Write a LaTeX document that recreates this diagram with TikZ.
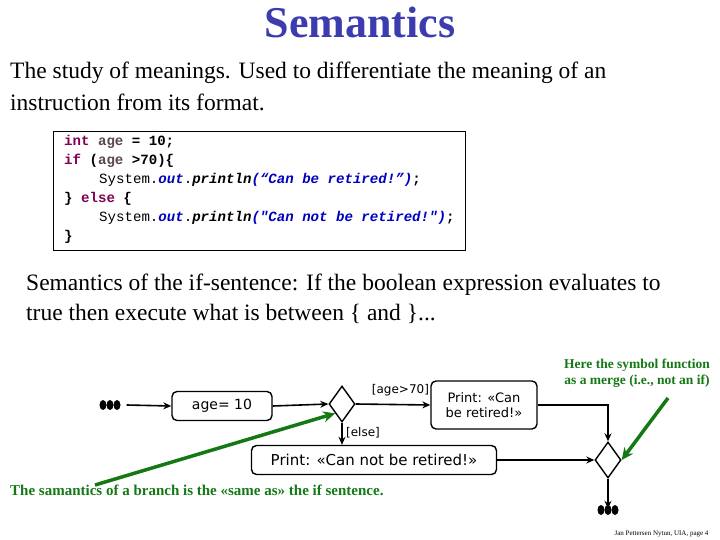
\documentclass[tikz,border=0pt]{standalone}
\usepackage{fontspec}
\setmainfont{Liberation Serif}
\newfontfamily\codefont{Liberation Mono}
\newfontfamily\diagfont{DejaVu Sans}
\usetikzlibrary{shapes.geometric,arrows.meta}
\definecolor{titleblue}{RGB}{60,60,175}
\definecolor{kw}{RGB}{127,0,85}
\definecolor{fld}{RGB}{0,0,192}
\definecolor{grn}{RGB}{20,120,20}
\definecolor{agecol}{RGB}{90,70,80}
\tikzset{
  box/.style={draw,rounded corners=5pt,line width=1.4pt,font=\diagfont\fontsize{13}{15}\selectfont,align=center,inner sep=3pt},
  dec/.style={draw,diamond,line width=1.4pt,minimum width=26pt,minimum height=36pt,inner sep=0pt,aspect=0.7},
  flow/.style={line width=1.6pt,-{Stealth[length=8pt,width=7pt]}},
  garrow/.style={grn,line width=3.5pt,-{Stealth[length=12pt,width=11pt]}},
  gtext/.style={grn,font=\bfseries\fontsize{15}{17}\selectfont,anchor=west,inner sep=0pt},
  dots/.style={inner sep=0pt},
  codeline/.style={anchor=west,inner sep=0pt,font=\codefont\bfseries\fontsize{14.1}{16}\selectfont},
  body/.style={anchor=west,inner sep=0pt,font=\fontsize{23.5}{27}\selectfont}
}
\newcommand{\threedots}{\tikz[baseline=-2pt]{\fill (0,0) ellipse (3.5pt and 5pt);\fill (7pt,0) ellipse (3.5pt and 5pt);\fill (14pt,0) ellipse (3.5pt and 5pt);}}
\begin{document}
\begin{tikzpicture}[x=1pt,y=-1pt]
\useasboundingbox (0,0) rectangle (720,540);
\node[font=\bfseries\fontsize{44}{46}\selectfont,text=titleblue] (title) at (360,22) {Semantics};
\node[body] (p1) at (10,73) {The study of meanings. Used to differentiate the meaning of an};
\node[body] (p2) at (10,102) {instruction from its format.};
\draw[line width=0.8pt] (53,131) rectangle (465,250);
\node[codeline] (c1) at (64,142) {\color{kw}int \color{agecol}age \color{black}= 10;};
\node[codeline] (c2) at (64,161) {\color{kw}if \color{black}(\color{agecol}age \color{black}>70)\{};
\node[codeline,font=\codefont\fontsize{14.1}{16}\selectfont] (c3) at (99,180) {System.\textcolor{fld}{\bfseries\itshape out}.\textcolor{black}{\bfseries\itshape println}\textcolor{fld}{\bfseries\itshape (“Can be retired!”)}\textbf{;}};
\node[codeline] (c4) at (64,199) {\} \color{kw}else \color{black}\{};
\node[codeline,font=\codefont\fontsize{14.1}{16}\selectfont] (c5) at (99,218) {System.\textcolor{fld}{\bfseries\itshape out}.\textcolor{black}{\bfseries\itshape println}\textcolor{fld}{\bfseries\itshape ("Can not be retired!")}\textbf{;}};
\node[codeline] (c6) at (64,237) {\}};
\node[body] (s1) at (26,285) {Semantics of the if-sentence: If the boolean expression evaluates to};
\node[body] (s2) at (26,314) {true then execute what is between \{ and \}...};
% diagram
\node[dots] (start) at (110,405) {\threedots};
\node[box,minimum width=100pt,minimum height=29pt,font=\diagfont\fontsize{14}{16}\selectfont] (age) at (222,406) {age= 10};
\node[dec] (d1) at (342,404) {};
\node[box,minimum width=106pt,minimum height=48pt] (yes) at (484,405) {Print: «Can\\be retired!»};
\node[box,minimum width=245pt,minimum height=29pt,font=\diagfont\fontsize{15}{17}\selectfont] (no) at (374,460) {Print: «Can not be retired!»};
\node[dec] (d2) at (608,460) {};
\node[dots] (end) at (608,510) {\threedots};
\draw[flow] (start.east) ++(6,0) coordinate (s0) -- (age.west);
\draw[flow] (age.east) -- (d1.west);
\draw[flow] (d1.east) -- node[above,pos=0.6,font=\diagfont\fontsize{12}{14}\selectfont,yshift=4pt] {[age>70]} (yes.west);
\draw[flow] (d1.south) -- node[right,font=\diagfont\fontsize{12}{14}\selectfont,yshift=1pt] {[else]} (no.north -| d1.south);
\draw[flow] (yes.east) -| (d2.north);
\draw[flow] (no.east) -- (d2.west);
\draw[flow] (d2.south) -- ([yshift=-4pt]end.north);
\coordinate (g1s) at (95,485);
\draw[garrow] (g1s) -- (d1.south west);
\coordinate (g2s) at (668,398);
\draw[garrow] (g2s) -- (d2.east);
\node[gtext,anchor=center,align=center,font=\bfseries\fontsize{13.5}{16}\selectfont] (note2) at (637,373) {Here the symbol function\\as a merge (i.e., not an if)};
\node[gtext] (note1) at (10,490) {The samantics of a branch is the «same as» the if sentence.};
\node[font=\fontsize{7}{8}\selectfont,anchor=east] (foot) at (712,534) {Jan Pettersen Nytun, UIA, page 4};
\end{tikzpicture}
\end{document}
